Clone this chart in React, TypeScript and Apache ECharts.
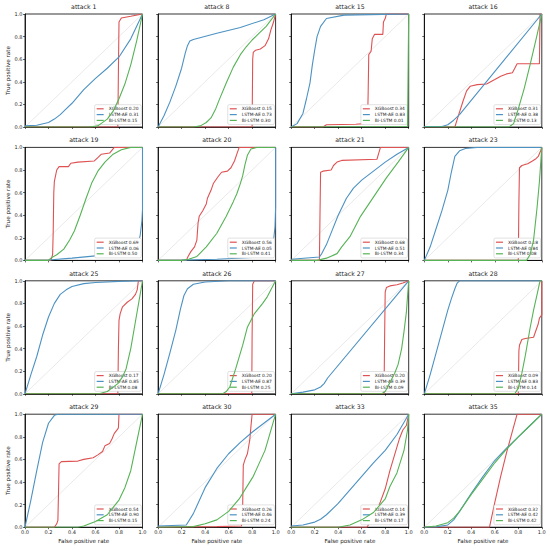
import React, { useEffect, useRef } from "react";
import * as echarts from "echarts";

const attacks = [1, 8, 15, 16, 19, 20, 21, 23, 25, 26, 27, 28, 29, 30, 33, 35];
const modelNames = ["XGBoost", "LSTM-AE", "Bi-LSTM"];
const modelColors = ["#de5253", "#4c92c3", "#56b356"];
const aucXGBoost = ["0.20", "0.15", "0.34", "0.31", "0.69", "0.56", "0.68", "0.18", "0.17", "0.20", "0.20", "0.09", "0.54", "0.26", "0.14", "0.32"];
const aucLSTMAE = ["0.31", "0.73", "0.83", "0.38", "0.06", "0.05", "0.51", "0.84", "0.85", "0.87", "0.39", "0.83", "0.90", "0.46", "0.39", "0.42"];
const aucBiLSTM = ["0.15", "0.30", "0.01", "0.13", "0.50", "0.41", "0.34", "0.08", "0.08", "0.25", "0.09", "0.14", "0.15", "0.24", "0.17", "0.42"];
const tickValues = [0, 0.2, 0.4, 0.6, 0.8, 1.0];

const rocXGBoost = [
  [[0, 0], [0.79, 0], [0.795, 0.5], [0.8, 0.93], [0.82, 0.965], [0.9, 0.98], [1, 1]],
  [[0, 0], [0.8, 0], [0.805, 0.6], [0.81, 0.66], [0.83, 0.68], [0.87, 0.69], [0.91, 0.72], [0.94, 0.78], [0.96, 0.86], [0.98, 0.92], [1, 1]],
  [[0, 0], [0.27, 0], [0.3, 0.02], [0.55, 0.025], [0.62, 0.03], [0.65, 0.05], [0.655, 0.3], [0.66, 0.64], [0.68, 0.67], [0.69, 0.78], [0.71, 0.82], [0.78, 0.82], [0.785, 0.93], [0.8, 0.96], [0.81, 1], [1, 1]],
  [[0, 0], [0.26, 0], [0.29, 0.1], [0.33, 0.23], [0.36, 0.32], [0.39, 0.36], [0.45, 0.375], [0.53, 0.38], [0.6, 0.42], [0.65, 0.45], [0.7, 0.47], [0.75, 0.48], [0.77, 0.52], [0.79, 0.56], [0.98, 0.56], [0.985, 1], [1, 1]],
  [[0, 0], [0.22, 0], [0.235, 0.05], [0.24, 0.25], [0.245, 0.6], [0.25, 0.7], [0.27, 0.8], [0.29, 0.83], [0.37, 0.83], [0.39, 0.86], [0.45, 0.87], [0.59, 0.88], [0.62, 0.91], [0.65, 0.94], [0.72, 0.95], [0.76, 1], [1, 1]],
  [[0, 0], [0.24, 0], [0.255, 0.035], [0.28, 0.08], [0.31, 0.12], [0.33, 0.18], [0.34, 0.33], [0.35, 0.39], [0.38, 0.44], [0.41, 0.5], [0.42, 0.55], [0.45, 0.62], [0.47, 0.68], [0.51, 0.74], [0.54, 0.78], [0.59, 0.79], [0.62, 0.82], [0.65, 0.88], [0.67, 0.94], [0.69, 1], [1, 1]],
  [[0, 0], [0.24, 0], [0.245, 0.4], [0.25, 0.78], [0.27, 0.79], [0.34, 0.8], [0.36, 0.84], [0.39, 0.87], [0.43, 0.885], [0.73, 0.895], [0.745, 0.95], [0.76, 1], [1, 1]],
  [[0, 0], [0.8, 0], [0.805, 0.5], [0.81, 0.82], [0.83, 0.84], [0.88, 0.855], [0.92, 0.88], [0.95, 0.9], [0.97, 0.92], [0.99, 0.97], [1, 1]],
  [[0, 0], [0.79, 0], [0.795, 0.4], [0.8, 0.65], [0.81, 0.71], [0.83, 0.77], [0.87, 0.81], [0.91, 0.84], [0.94, 0.88], [0.955, 0.92], [0.965, 1], [1, 1]],
  [[0, 0], [0.797, 0], [0.8, 0.5], [0.805, 0.97], [0.82, 1], [1, 1]],
  [[0, 0], [0.79, 0], [0.795, 0.5], [0.8, 0.9], [0.81, 0.94], [0.84, 0.955], [0.9, 0.965], [0.95, 0.98], [1, 1]],
  [[0, 0], [0.8, 0], [0.805, 0.38], [0.81, 0.43], [0.83, 0.48], [0.86, 0.49], [0.93, 0.5], [0.95, 0.56], [0.97, 0.62], [0.98, 0.67], [1, 0.7], [1, 1]],
  [[0, 0], [0.25, 0], [0.27, 0.03], [0.28, 0.06], [0.285, 0.3], [0.29, 0.56], [0.31, 0.58], [0.45, 0.585], [0.5, 0.6], [0.58, 0.615], [0.62, 0.64], [0.66, 0.67], [0.68, 0.72], [0.72, 0.74], [0.74, 0.78], [0.76, 0.83], [0.79, 0.87], [0.795, 0.88], [0.8, 1], [1, 1]],
  [[0, 0], [0.5, 0.005], [0.71, 0.01], [0.72, 0.2], [0.725, 0.55], [0.74, 0.6], [0.76, 0.65], [0.77, 0.71], [0.78, 0.77], [0.79, 0.89], [0.8, 1], [1, 1]],
  [[0, 0], [0.645, 0], [0.7, 0.1], [0.75, 0.2], [0.8, 0.34], [0.84, 0.5], [0.88, 0.64], [0.92, 0.78], [0.95, 0.86], [0.98, 0.9], [1, 1]],
  [[0, 0], [0.555, 0], [0.6, 0.22], [0.65, 0.45], [0.7, 0.66], [0.75, 0.85], [0.79, 1], [1, 1]],
];

const rocLSTMAE = [
  [[0, 0.01], [0.1, 0.015], [0.2, 0.04], [0.25, 0.07], [0.3, 0.11], [0.35, 0.16], [0.4, 0.21], [0.5, 0.33], [0.6, 0.43], [0.7, 0.52], [0.8, 0.62], [0.9, 0.78], [1, 1]],
  [[0, 0], [0.05, 0.1], [0.1, 0.22], [0.15, 0.36], [0.2, 0.52], [0.23, 0.65], [0.25, 0.72], [0.27, 0.76], [0.3, 0.775], [0.5, 0.83], [0.7, 0.88], [0.9, 0.95], [1, 1]],
  [[0, 0], [0.05, 0.03], [0.1, 0.12], [0.13, 0.25], [0.16, 0.39], [0.18, 0.55], [0.2, 0.68], [0.22, 0.8], [0.25, 0.89], [0.3, 0.96], [0.45, 0.99], [1, 1]],
  [[0, 0.005], [0.15, 0.005], [0.2, 0.02], [0.25, 0.06], [0.3, 0.11], [1, 1]],
  [[0, 0], [0.2, 0.003], [0.4, 0.02], [0.6, 0.04], [0.8, 0.06], [0.9, 0.07], [0.95, 0.11], [0.98, 0.22], [0.995, 0.35], [1, 0.45], [1, 1]],
  [[0, 0], [0.2, 0.002], [0.5, 0.01], [0.8, 0.025], [0.9, 0.035], [0.95, 0.07], [0.98, 0.15], [0.995, 0.3], [1, 0.47], [1, 1]],
  [[0, 0.01], [0.24, 0.03], [0.26, 0.06], [0.3, 0.14], [0.35, 0.27], [0.4, 0.4], [0.47, 0.55], [0.53, 0.64], [0.6, 0.71], [0.7, 0.79], [0.8, 0.87], [0.9, 0.94], [1, 1]],
  [[0, 0], [0.05, 0.12], [0.1, 0.28], [0.15, 0.44], [0.2, 0.62], [0.23, 0.78], [0.26, 0.92], [0.3, 0.97], [0.35, 0.99], [0.45, 1], [1, 1]],
  [[0, 0], [0.05, 0.17], [0.1, 0.33], [0.15, 0.52], [0.2, 0.68], [0.25, 0.8], [0.3, 0.88], [0.35, 0.92], [0.4, 0.95], [0.5, 0.975], [0.6, 0.985], [0.8, 0.995], [1, 1]],
  [[0, 0], [0.05, 0.17], [0.1, 0.36], [0.15, 0.56], [0.19, 0.75], [0.22, 0.87], [0.25, 0.93], [0.3, 0.97], [0.4, 0.99], [0.6, 1], [1, 1]],
  [[0, 0], [0.1, 0.015], [0.2, 0.035], [0.25, 0.06], [0.28, 0.09], [0.31, 0.14], [1, 1]],
  [[0, 0], [0.05, 0.17], [0.1, 0.36], [0.15, 0.55], [0.2, 0.74], [0.23, 0.84], [0.26, 0.93], [0.28, 0.98], [0.3, 1], [1, 1]],
  [[0, 0], [0.05, 0.24], [0.1, 0.5], [0.15, 0.75], [0.2, 0.92], [0.25, 0.99], [0.28, 1], [1, 1]],
  [[0, 0.01], [0.24, 0.02], [0.3, 0.12], [0.4, 0.35], [0.5, 0.52], [0.6, 0.65], [0.7, 0.75], [0.8, 0.84], [0.9, 0.92], [1, 1]],
  [[0, 0.01], [0.1, 0.02], [0.2, 0.045], [0.25, 0.07], [0.3, 0.11], [0.4, 0.21], [0.5, 0.33], [0.6, 0.45], [0.7, 0.57], [0.8, 0.68], [0.9, 0.82], [1, 1]],
  [[0, 0], [0.1, 0.003], [0.2, 0.02], [0.25, 0.065], [0.3, 0.14], [0.4, 0.3], [0.5, 0.45], [0.6, 0.59], [0.7, 0.7], [0.8, 0.8], [0.9, 0.9], [1, 1]],
];

const rocBiLSTM = [
  [[0, 0], [0.55, 0], [0.62, 0.01], [0.7, 0.07], [0.75, 0.14], [0.8, 0.25], [0.85, 0.38], [0.9, 0.55], [0.95, 0.76], [1, 1]],
  [[0, 0], [0.3, 0], [0.36, 0.01], [0.41, 0.04], [0.45, 0.08], [0.49, 0.16], [0.52, 0.24], [0.58, 0.39], [0.64, 0.53], [0.7, 0.64], [0.75, 0.71], [0.8, 0.77], [0.86, 0.83], [0.92, 0.89], [1, 1]],
  [[0, 0], [0.99, 0.005], [1, 1]],
  [[0, 0], [0.72, 0], [0.76, 0.03], [0.8, 0.16], [0.85, 0.34], [0.9, 0.55], [0.95, 0.77], [1, 1]],
  [[0, 0], [0.2, 0], [0.22, 0.02], [0.27, 0.05], [0.33, 0.1], [0.38, 0.18], [0.42, 0.26], [0.47, 0.4], [0.52, 0.55], [0.57, 0.69], [0.62, 0.79], [0.68, 0.87], [0.75, 0.94], [0.82, 0.98], [0.9, 1], [1, 1]],
  [[0, 0], [0.2, 0], [0.26, 0.01], [0.33, 0.035], [0.41, 0.12], [0.5, 0.24], [0.58, 0.39], [0.64, 0.52], [0.67, 0.59], [0.7, 0.68], [0.72, 0.75], [0.74, 0.85], [0.76, 0.93], [0.79, 0.985], [0.84, 1], [1, 1]],
  [[0, 0], [0.22, 0], [0.3, 0.02], [0.39, 0.06], [0.43, 0.12], [0.5, 0.21], [0.59, 0.39], [0.7, 0.56], [0.81, 0.73], [0.91, 0.87], [1, 1]],
  [[0, 0], [0.87, 0], [0.9, 0.05], [0.93, 0.18], [0.96, 0.47], [0.98, 0.7], [1, 1]],
  [[0, 0], [0.63, 0], [0.7, 0.02], [0.79, 0.09], [0.83, 0.15], [0.86, 0.22], [0.9, 0.4], [0.94, 0.64], [1, 1]],
  [[0, 0], [0.55, 0], [0.58, 0.02], [0.61, 0.06], [0.66, 0.22], [0.72, 0.43], [0.76, 0.59], [0.82, 0.71], [0.89, 0.8], [0.93, 0.86], [1, 1]],
  [[0, 0], [0.77, 0], [0.8, 0.02], [0.84, 0.1], [0.88, 0.18], [0.91, 0.26], [0.94, 0.4], [0.96, 0.55], [0.98, 0.72], [1, 1]],
  [[0, 0], [0.77, 0], [0.8, 0.05], [0.83, 0.18], [0.86, 0.34], [0.9, 0.58], [0.93, 0.74], [0.96, 0.88], [0.985, 1], [1, 1]],
  [[0, 0], [0.45, 0], [0.5, 0.01], [0.6, 0.05], [0.7, 0.11], [0.8, 0.24], [0.85, 0.35], [0.9, 0.5], [0.94, 0.7], [1, 1]],
  [[0, 0], [0.3, 0.005], [0.4, 0.03], [0.5, 0.065], [0.6, 0.14], [0.69, 0.25], [0.75, 0.35], [0.81, 0.45], [0.91, 0.68], [1, 1]],
  [[0, 0], [0.4, 0], [0.5, 0.02], [0.6, 0.065], [0.7, 0.13], [0.8, 0.25], [0.84, 0.36], [0.9, 0.48], [0.96, 0.68], [0.99, 0.86], [1, 1]],
  [[0, 0], [0.1, 0.01], [0.2, 0.04], [0.25, 0.08], [0.3, 0.14], [0.4, 0.29], [0.5, 0.43], [0.6, 0.57], [0.7, 0.69], [0.8, 0.8], [0.9, 0.9], [1, 1]],
];

const FONT = "DejaVu Sans";

function buildOption() {
  const W = 117.5;
  const H = 113;
  const grid: any[] = [];
  const xAxis: any[] = [];
  const yAxis: any[] = [];
  const series: any[] = [];
  const legend: any[] = [];
  const title: any[] = [];
  const curves = [rocXGBoost, rocLSTMAE, rocBiLSTM];
  const aucs = [aucXGBoost, aucLSTMAE, aucBiLSTM];

  attacks.forEach((a, i) => {
    const col = i % 4;
    const row = Math.floor(i / 4);
    const L = 25 + 133.1 * col;
    const T = 14 + 133.4 * row;
    grid.push({ left: L, top: T, width: W, height: H, show: true, borderColor: "#000", borderWidth: 0.8, backgroundColor: "transparent", containLabel: false });
    xAxis.push({
      type: "value", gridIndex: i, min: 0, max: 1, interval: 0.2,
      axisLine: { show: true, lineStyle: { color: "#000", width: 0.8 } },
      axisTick: { show: true, length: 2, lineStyle: { color: "#000", width: 0.6 } },
      axisLabel: { show: row === 3, fontSize: 5, color: "#222", margin: 2.5, fontFamily: FONT, formatter: (v: number) => v.toFixed(1) },
      splitLine: { show: false },
      name: row === 3 ? "False positive rate" : "",
      nameLocation: "middle", nameGap: 11,
      nameTextStyle: { fontSize: 5.6, color: "#222", fontFamily: FONT },
    });
    yAxis.push({
      type: "value", gridIndex: i, min: 0, max: 1, interval: 0.2,
      axisLine: { show: true, lineStyle: { color: "#000", width: 0.8 } },
      axisTick: { show: true, length: 2, lineStyle: { color: "#000", width: 0.6 } },
      axisLabel: { show: col === 0, fontSize: 5, color: "#222", margin: 2.5, fontFamily: FONT, formatter: (v: number) => v.toFixed(1) },
      splitLine: { show: false },
      name: col === 0 ? "True positive rate" : "",
      nameLocation: "middle", nameGap: 13, nameRotate: 90,
      nameTextStyle: { fontSize: 5.6, color: "#222", fontFamily: FONT },
    });
    series.push({
      type: "line", xAxisIndex: i, yAxisIndex: i, data: [[0, 0], [1, 1]],
      symbol: "none", silent: true, z: 1,
      lineStyle: { color: "#d3d3d3", width: 0.5 },
    });
    const names: string[] = [];
    modelNames.forEach((m, k) => {
      const name = `${m} ${aucs[k][i]}`;
      names.push(name);
      series.push({
        type: "line", name, xAxisIndex: i, yAxisIndex: i, data: curves[k][i],
        symbol: "none", z: 2 + k, color: modelColors[k],
        lineStyle: { color: modelColors[k], width: 1.1 },
      });
    });
    legend.push({
      data: names, orient: "vertical", selectedMode: false,
      right: 550 - (L + W - 1.2), bottom: 550 - (T + H - 2.5),
      icon: "rect", itemWidth: 7, itemHeight: 1.2, itemGap: 0.8,
      padding: [1.6, 2.5, 1.6, 2],
      backgroundColor: "#fff", borderColor: "#cccccc", borderWidth: 0.6, borderRadius: 1.5,
      textStyle: { fontSize: 4.4, lineHeight: 5, color: "#222", fontFamily: FONT },
    });
    title.push({
      text: `attack ${a}`, left: L + W / 2, top: T - 10.5, textAlign: "center", padding: 0,
      textStyle: { fontSize: 6.2, fontWeight: "normal", color: "#222", fontFamily: FONT },
    });
  });

  return {
    animation: false,
    backgroundColor: "#fff",
    textStyle: { fontFamily: FONT },
    title, grid, xAxis, yAxis, series, legend,
  };
}

export default function App() {
  const ref = useRef<HTMLDivElement>(null);
  useEffect(() => {
    if (!ref.current) return;
    const chart = echarts.init(ref.current, null, { renderer: "svg" });
    chart.setOption(buildOption() as any);
    return () => chart.dispose();
  }, []);
  return <div ref={ref} style={{ position: "fixed", left: 0, top: 0, width: 550, height: 550 }} />;
}
